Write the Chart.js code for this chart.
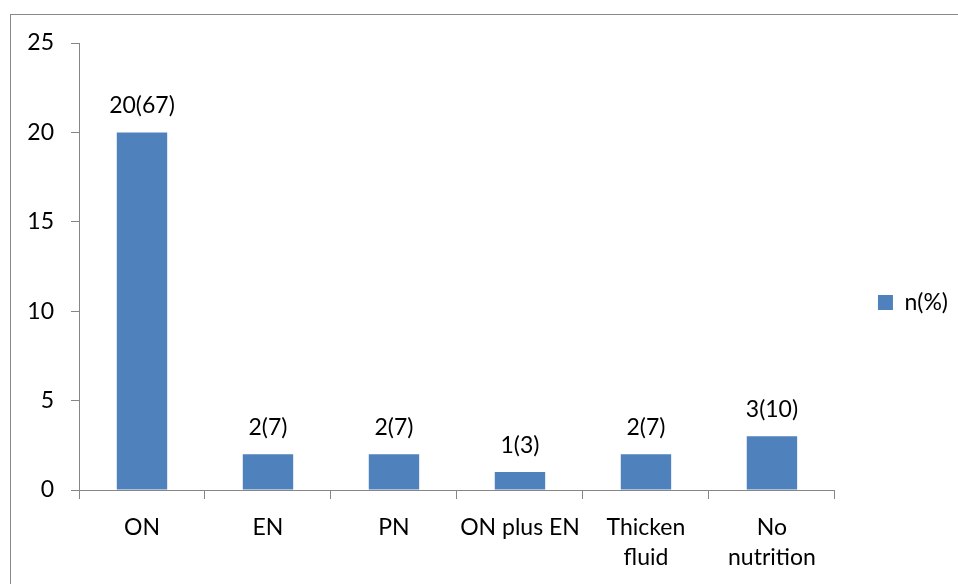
<!DOCTYPE html>
<html>
<head>
<meta charset="utf-8">
<script src="https://cdn.jsdelivr.net/npm/chart.js@4.4.0/dist/chart.umd.min.js"></script>
<style>
  html, body { margin: 0; padding: 0; background: #fff; }
  #wrap { width: 958px; height: 584px; position: relative; }
</style>
</head>
<body>
<div id="wrap"><canvas id="nutritionChart" width="958" height="584"></canvas></div>
<script>
const categories = ['ON', 'EN', 'PN', 'ON plus EN', ['Thicken', 'fluid'], ['No', 'nutrition']];
const counts = [20, 2, 2, 1, 2, 3];
const percents = [67, 7, 7, 3, 7, 10];
const yTicks = [0, 5, 10, 15, 20, 25];

const FONT = 'Lato, "Open Sans", sans-serif';
const FONT_SIZE = 23;

// 外枠を描く
const framePlugin = {
  id: 'frame',
  beforeDraw(chart) {
    const ctx = chart.ctx;
    ctx.save();
    ctx.fillStyle = '#fff';
    ctx.fillRect(0, 0, chart.width, chart.height);
    ctx.strokeStyle = '#898989';
    ctx.lineWidth = 1;
    ctx.strokeRect(10.5, 14.5, chart.width + 20, chart.height + 20);
    ctx.restore();
  }
};

// 凡例を少し上に寄せる（中央揃えの基準を下端22px分縮める）
const legendShift = {
  id: 'legendShift',
  afterLayout(chart) {
    if (chart.legend) chart.legend.bottom -= 22;
  }
};

// 棒の上に n(%) を表示
const valueLabels = {
  id: 'valueLabels',
  afterDatasetsDraw(chart) {
    const ctx = chart.ctx;
    const meta = chart.getDatasetMeta(0);
    ctx.save();
    ctx.font = FONT_SIZE + 'px ' + FONT;
    ctx.fillStyle = '#000';
    ctx.textAlign = 'center';
    ctx.textBaseline = 'alphabetic';
    meta.data.forEach((bar, i) => {
      ctx.fillText(`${counts[i]}(${percents[i]})`, bar.x, bar.y - 19);
    });
    ctx.restore();
  }
};

const nutritionChart = new Chart(document.getElementById('nutritionChart'), {
  type: 'bar',
  data: {
    labels: categories,
    datasets: [{
      label: 'n(%)',
      data: counts,
      backgroundColor: '#4F81BD',
      borderWidth: 0,
      categoryPercentage: 0.8,
      barPercentage: 0.5
    }]
  },
  options: {
    responsive: false,
    animation: false,
    layout: {
      padding: { left: 0, top: 43, right: 0, bottom: 0 }
    },
    scales: {
      x: {
        grid: {
          display: true,
          drawOnChartArea: false,
          drawTicks: true,
          tickLength: 9,
          color: '#868686',
          offset: true
        },
        border: { display: true, color: '#868686', width: 1 },
        ticks: {
          color: '#000',
          font: { family: FONT, size: FONT_SIZE, lineHeight: 1.3 },
          padding: 14,
          maxRotation: 0,
          autoSkip: false
        },
        afterFit(scale) { scale.height = 94; }
      },
      y: {
        min: 0,
        max: 25,
        afterBuildTicks(scale) { scale.ticks = yTicks.map(v => ({ value: v })); },
        grid: {
          display: true,
          drawOnChartArea: false,
          drawTicks: true,
          tickLength: 8,
          color: '#868686'
        },
        border: { display: true, color: '#868686', width: 1 },
        ticks: {
          color: '#000',
          font: { family: FONT, size: FONT_SIZE },
          padding: 17
        },
        afterFit(scale) { scale.width = 79; }
      }
    },
    plugins: {
      legend: {
        position: 'right',
        align: 'center',
        maxWidth: 130,
        labels: {
          color: '#000',
          font: { family: FONT, size: FONT_SIZE },
          boxWidth: 15,
          boxHeight: 15,
          padding: 43
        }
      },
      tooltip: { enabled: false }
    }
  },
  plugins: [framePlugin, legendShift, valueLabels]
});
</script>
</body>
</html>
